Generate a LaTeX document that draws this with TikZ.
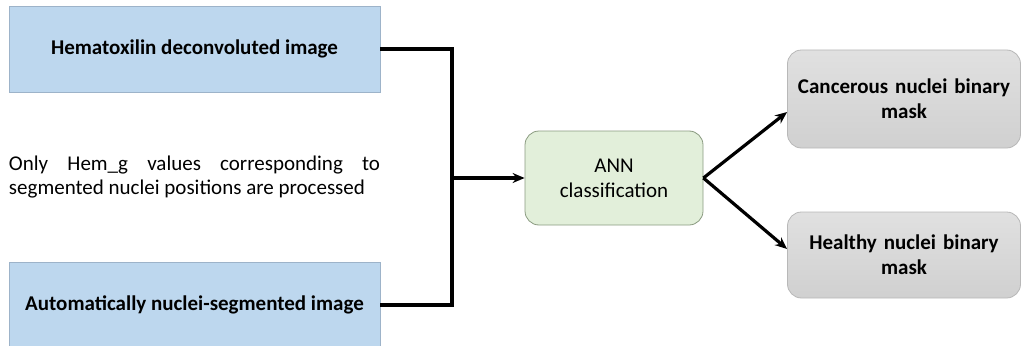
\documentclass[tikz,border=0pt]{standalone}
\usepackage{fontspec}
\setmainfont{Carlito}
\usetikzlibrary{arrows.meta,calc}
\definecolor{inblue}{HTML}{BDD7EE}
\definecolor{inblueedge}{HTML}{9DB3C9}
\definecolor{anngreen}{HTML}{E2EFDA}
\definecolor{annedge}{HTML}{8A9A80}
\definecolor{outgray}{HTML}{D0D0D0}
\definecolor{outedge}{HTML}{B8B8B8}
\tikzset{
  inbox/.style={draw=inblueedge, fill=inblue, line width=0.8pt, font=\bfseries\fontsize{21}{25}\selectfont},
  annbox/.style={draw=annedge, fill=anngreen, rounded corners=14pt, line width=0.8pt, align=center, font=\fontsize{21}{25}\selectfont},
  outbox/.style={draw=outedge, top color=outgray!65, bottom color=outgray, rounded corners=14pt, line width=0.8pt, align=center, font=\bfseries\fontsize{21}{25}\selectfont},
  flow/.style={line width=3.2pt, -{Stealth[length=12pt,width=10pt]}},
  wire/.style={line width=3.2pt}
}
\begin{document}
\begin{tikzpicture}[x=1pt,y=-1pt]
\useasboundingbox (0,0) rectangle (1024,345);
% input images
\node[inbox, minimum width=371pt, minimum height=86pt] (hem) at (194.5,49) {Hematoxilin deconvoluted image};
\node[inbox, minimum width=371pt, minimum height=96pt] (seg) at (194.5,310) {};
\node[font=\bfseries\fontsize{21}{25}\selectfont] (segtxt) at (194.5,305) {Automatically nuclei-segmented image};
% note between the inputs
\node[text width=371pt, align=justify, inner sep=0pt, font=\fontsize{21}{24}\selectfont] (note) at (194.5,177)
  {\hyphenpenalty=10000 Only Hem\_g values corresponding to\linebreak segmented nuclei positions are processed};
% classifier
\node[annbox, minimum width=178pt, minimum height=94pt] (ann) at (614,178) {ANN\\classification};
% outputs
\node[outbox, minimum width=233pt, minimum height=98pt, text width=225pt] (canc) at (904,99) {Cancerous nuclei binary\\mask};
\node[outbox, minimum width=233pt, minimum height=86pt, text width=225pt] (heal) at (904,255) {Healthy nuclei binary\\mask};
% merging connector
\coordinate (jt) at (452,49);
\coordinate (jb) at (452,305);
\coordinate (jm) at (452,178);
\draw[wire] (hem.east) -- (jt) -- (jb) -- (seg.east |- jb);
\draw[flow] (jm) -- (ann.west);
\draw[flow] (ann.east) -- ($(canc.west)+(0,13)$);
\draw[flow] (ann.east) -- ($(heal.west)+(0,-6)$);
\end{tikzpicture}
\end{document}
